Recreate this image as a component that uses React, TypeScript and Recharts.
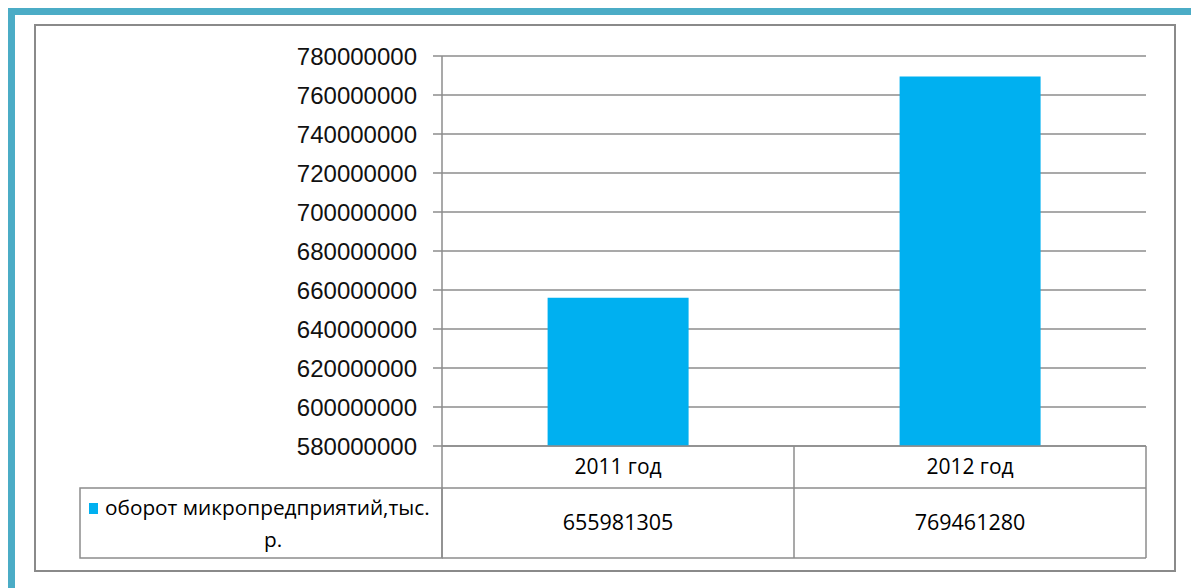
import React from 'react';
import { BarChart, Bar, XAxis, YAxis, CartesianGrid } from 'recharts';

const categories = ['2011 год', '2012 год'];
const turnover = [655981305, 769461280];
const yTicks = [580000000, 600000000, 620000000, 640000000, 660000000, 680000000, 700000000, 720000000, 740000000, 760000000, 780000000];
const seriesName = ['оборот микропредприятий,тыс.', 'р.'];

const data = categories.map((year, i) => ({ year, value: turnover[i] }));

const W = 1191;
const H = 588;
const margin = { top: 56, right: 45, bottom: 30, left: 342 };
const yAxisWidth = 100;
const tableRow1 = 42;
const tableRow2 = 70;
const legendCellWidth = 362;

const barColor = '#00B0F0';
const lineColor = '#8c8c8c';
const tableFont = "'Open Sans', 'Noto Sans', sans-serif";

const plotWidth = W - margin.left - yAxisWidth - margin.right;
const band = plotWidth / categories.length;

function TableTick(props: any) {
  const { x, y, index } = props;
  const left = x - band / 2;
  const right = x + band / 2;
  return (
    <g>
      {index === 0 && (
        <g>
          <line x1={left} y1={y} x2={left} y2={y + tableRow1 + tableRow2} stroke={lineColor} strokeWidth={1.5} />
          <rect x={left - legendCellWidth} y={y + tableRow1} width={legendCellWidth} height={tableRow2} fill="none" stroke={lineColor} strokeWidth={1.5} />
          <rect x={left - legendCellWidth + 9} y={y + tableRow1 + 15} width={9} height={11} fill={barColor} />
          <text x={left - legendCellWidth + 25} y={y + tableRow1 + 27} fontFamily={tableFont} fontSize={20.8} fill="#000">
            {seriesName[0]}
          </text>
          <text x={left - legendCellWidth / 2 + 12} y={y + tableRow1 + 59} textAnchor="middle" fontFamily={tableFont} fontSize={20.8} fill="#000">
            {seriesName[1]}
          </text>
        </g>
      )}
      <line x1={right} y1={y} x2={right} y2={y + tableRow1 + tableRow2} stroke={lineColor} strokeWidth={1.5} />
      <line x1={left} y1={y + tableRow1} x2={right} y2={y + tableRow1} stroke={lineColor} strokeWidth={1.5} />
      <line x1={left} y1={y + tableRow1 + tableRow2} x2={right} y2={y + tableRow1 + tableRow2} stroke={lineColor} strokeWidth={1.5} />
      <text x={x} y={y + 28} textAnchor="middle" fontFamily={tableFont} fontSize={21} fill="#000">
        {categories[index]}
      </text>
      <text x={x} y={y + tableRow1 + 42} textAnchor="middle" fontFamily={tableFont} fontSize={21.5} fill="#000">
        {turnover[index]}
      </text>
    </g>
  );
}

export default function App() {
  return (
    <div style={{ position: 'absolute', left: 0, top: 0, width: W, height: H, background: '#fff', overflow: 'hidden' }}>
      <div style={{ position: 'absolute', left: 8, top: 8, width: W - 8, height: 7, background: '#4BACC6' }} />
      <div style={{ position: 'absolute', left: 8, top: 8, width: 7, height: H - 8, background: '#4BACC6' }} />
      <div style={{ position: 'absolute', left: 34, top: 24, width: 1138, height: 544, border: '2px solid #8a8a8a' }} />
      <div style={{ position: 'absolute', left: 0, top: 0 }}>
        <BarChart width={W} height={H} data={data} margin={margin} barCategoryGap="30%">
          <CartesianGrid vertical={false} stroke={lineColor} strokeWidth={1.5} />
          <XAxis
            dataKey="year"
            height={tableRow1 + tableRow2}
            tickSize={0}
            tickMargin={0}
            interval={0}
            tickLine={false}
            axisLine={{ stroke: lineColor, strokeWidth: 1.5 }}
            tick={<TableTick />}
          />
          <YAxis
            width={yAxisWidth}
            domain={[yTicks[0], yTicks[yTicks.length - 1]]}
            ticks={yTicks}
            interval={0}
            allowDataOverflow
            tickSize={9}
            tickMargin={16}
            axisLine={{ stroke: lineColor, strokeWidth: 1.5 }}
            tickLine={{ stroke: lineColor, strokeWidth: 1.5 }}
            tick={{ fill: '#111', fontSize: 24, fontFamily: "'Liberation Sans', Arial, sans-serif" }}
          />
          <Bar dataKey="value" fill={barColor} isAnimationActive={false} />
        </BarChart>
      </div>
    </div>
  );
}
